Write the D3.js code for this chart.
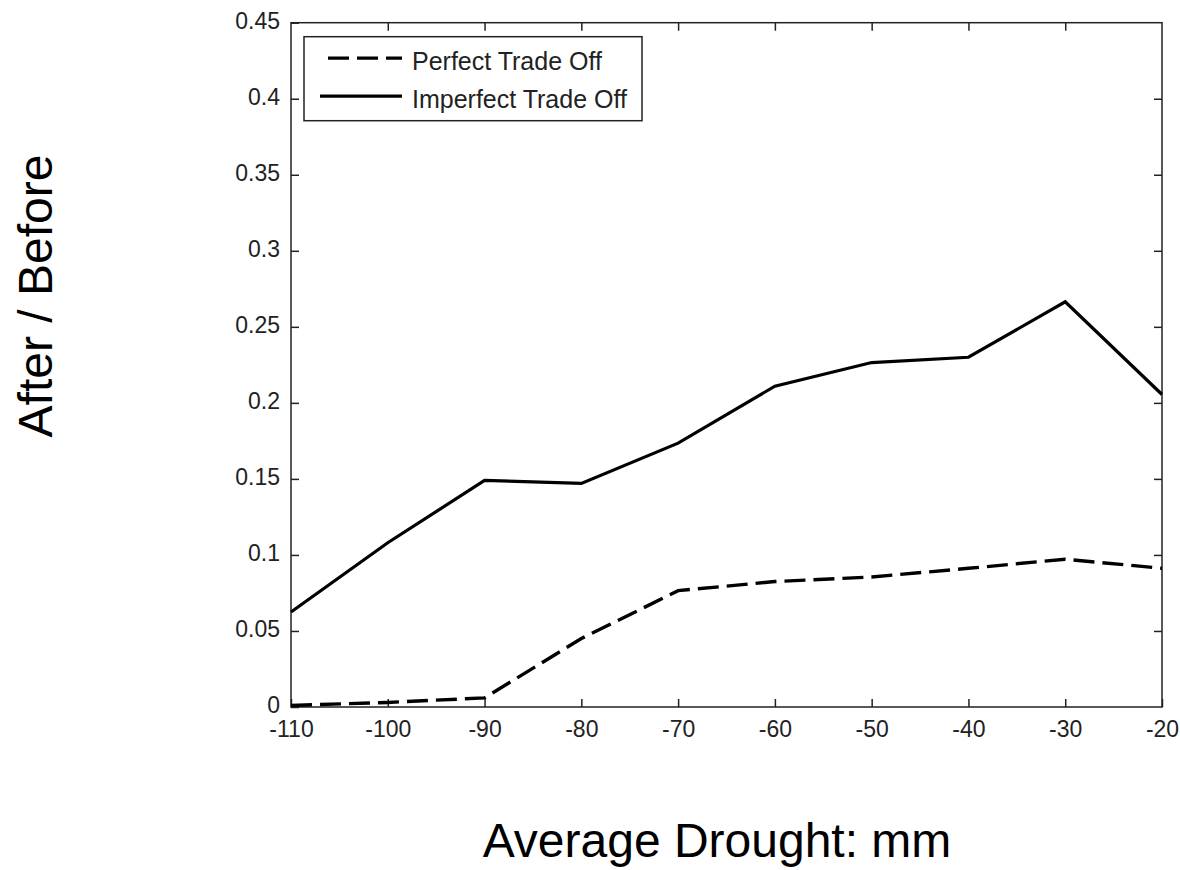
<!DOCTYPE html>
<html>
<head>
<meta charset="utf-8">
<script src="https://cdn.jsdelivr.net/npm/d3@7"></script>
<style>
  body { margin: 0; background: #fff; }
  svg text { font-family: Arial, "Liberation Sans", sans-serif; }
</style>
</head>
<body>
<div id="chart"></div>
<script>
// data
const drought = [-110, -100, -90, -80, -70, -60, -50, -40, -30, -20];
const perfect = [0.001, 0.003, 0.006, 0.045, 0.0765, 0.0825, 0.0855, 0.0912, 0.0972, 0.0912];
const imperfect = [0.0625, 0.108, 0.149, 0.147, 0.1735, 0.211, 0.2265, 0.2300, 0.2665, 0.2055];
const xTicks = [-110, -100, -90, -80, -70, -60, -50, -40, -30, -20];
const yTicks = [0, 0.05, 0.1, 0.15, 0.2, 0.25, 0.3, 0.35, 0.4, 0.45];
const seriesNames = ['Perfect Trade Off', 'Imperfect Trade Off'];

const width = 1180;
const height = 870;
const margin = { top: 22.7, right: 18, bottom: 163, left: 291 };
const innerW = width - margin.left - margin.right;
const innerH = height - margin.top - margin.bottom;

const svg = d3.select('#chart')
  .append('svg')
  .attr('width', width)
  .attr('height', height);

const g = svg.append('g')
  .attr('transform', `translate(${margin.left}, ${margin.top})`);

/* Scales */
const xScale = d3.scaleLinear().domain([-110, -20]).range([0, innerW]);
const yScale = d3.scaleLinear().domain([0, 0.45]).range([innerH, 0]);

// matlab style labels: plain hyphen, no trailing zeros
const fmtX = d => String(d);
const fmtY = d => String(+d.toFixed(2));

/* Axes, ticks pointing inwards */
const styleAxis = sel => {
  sel.select('.domain').remove();
  sel.selectAll('.tick line').attr('stroke', '#222').attr('stroke-width', 1.5);
  sel.selectAll('.tick text')
    .attr('fill', '#222')
    .style('font-size', '23px');
};

g.append('g')
  .attr('transform', `translate(0, ${innerH})`)
  .call(d3.axisBottom(xScale).tickValues(xTicks).tickSize(-8).tickPadding(14).tickFormat(fmtX))
  .call(styleAxis);

g.append('g')
  .call(d3.axisTop(xScale).tickValues(xTicks.slice(1, -1)).tickSize(-8).tickFormat(''))
  .call(styleAxis);

g.append('g')
  .call(d3.axisLeft(yScale).tickValues(yTicks).tickSize(-8).tickPadding(11).tickFormat(fmtY))
  .call(styleAxis)
  .call(sel => sel.selectAll('.tick text').attr('dy', '0.26em'));

g.append('g')
  .attr('transform', `translate(${innerW}, 0)`)
  .call(d3.axisRight(yScale).tickValues(yTicks.slice(1, -1)).tickSize(-8).tickFormat(''))
  .call(styleAxis);

/* Box */
g.append('rect')
  .attr('width', innerW)
  .attr('height', innerH)
  .attr('fill', 'none')
  .attr('stroke', '#222')
  .attr('stroke-width', 1.5);

/* Lines */
const line = d3.line()
  .x((d, i) => xScale(drought[i]))
  .y(d => yScale(d));

g.append('path')
  .attr('d', line(perfect))
  .attr('fill', 'none')
  .attr('stroke', '#000')
  .attr('stroke-width', 3.4)
  .attr('stroke-dasharray', '21,8');

g.append('path')
  .attr('d', line(imperfect))
  .attr('fill', 'none')
  .attr('stroke', '#000')
  .attr('stroke-width', 3.2);

/* Legend */
const legend = g.append('g').attr('transform', 'translate(13, 14)');

legend.append('rect')
  .attr('width', 338)
  .attr('height', 84)
  .attr('fill', '#fff')
  .attr('stroke', '#222')
  .attr('stroke-width', 1.5);

seriesNames.forEach((name, i) => {
  const y = 21.5 + i * 38;
  legend.append('line')
    .attr('x1', i === 0 ? 24 : 16)
    .attr('x2', 98)
    .attr('y1', y)
    .attr('y2', y)
    .attr('stroke', '#000')
    .attr('stroke-width', 3.3)
    .attr('stroke-dasharray', i === 0 ? '21,8' : null);
  legend.append('text')
    .attr('x', 108)
    .attr('y', y + 12)
    .attr('fill', '#222')
    .style('font-size', '25px')
    .text(name);
});

/* Axis titles */
svg.append('text')
  .attr('x', 717)
  .attr('y', 857)
  .attr('text-anchor', 'middle')
  .style('font-size', '48px')
  .text('Average Drought: mm');

svg.append('text')
  .attr('transform', 'translate(52, 296) rotate(-90)')
  .attr('text-anchor', 'middle')
  .style('font-size', '48px')
  .text('After / Before');
</script>
</body>
</html>
